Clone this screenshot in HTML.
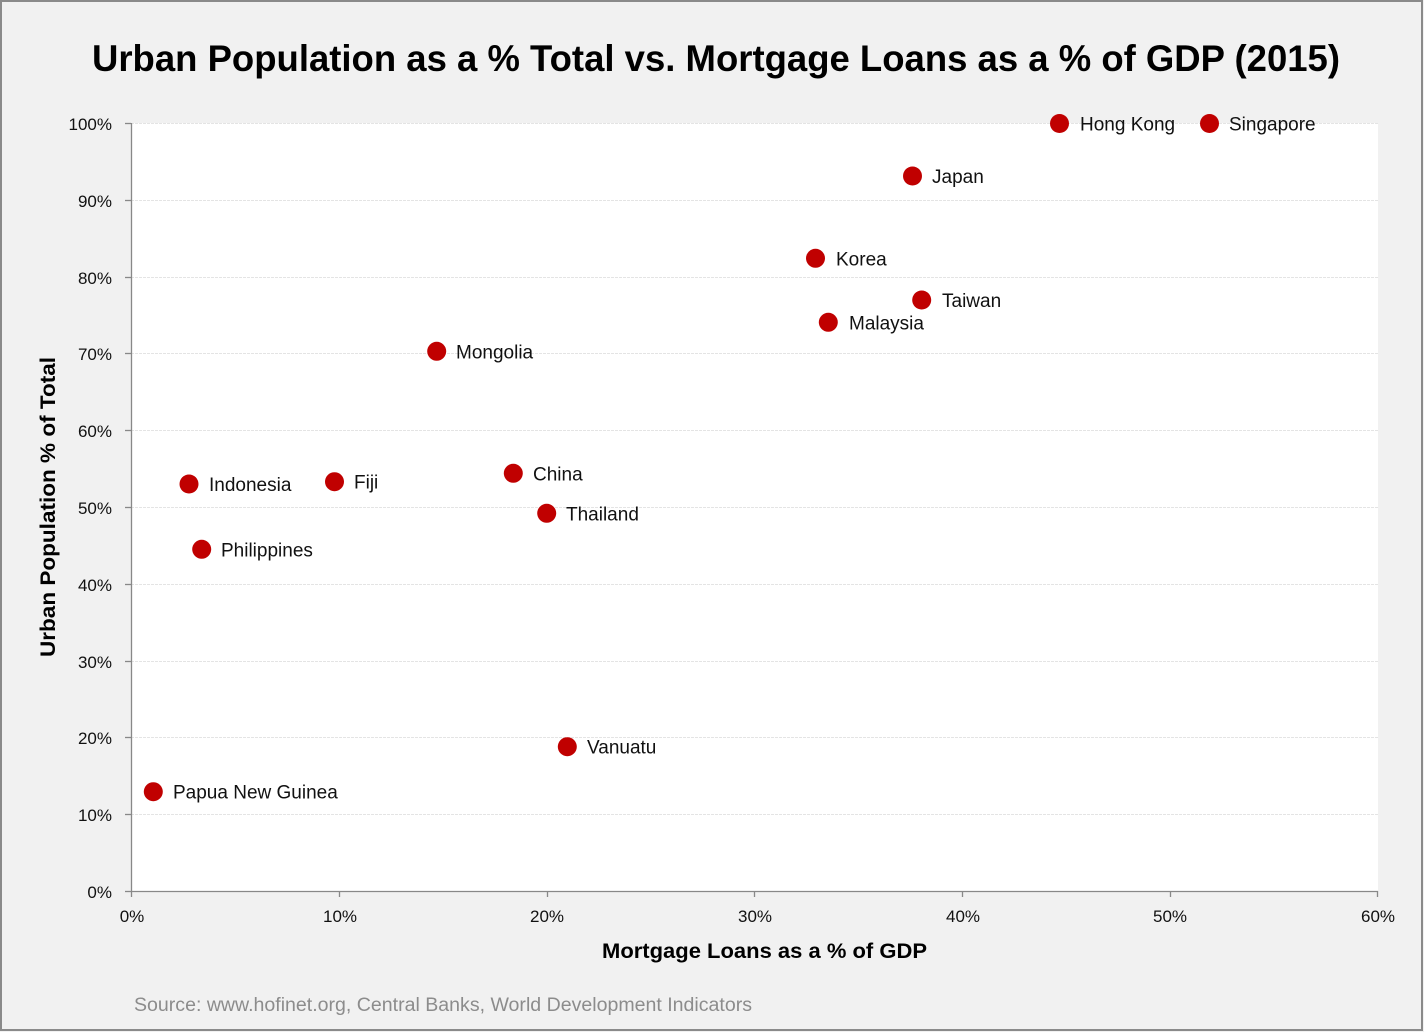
<!DOCTYPE html>
<html><head><meta charset="utf-8"><style>
html,body{margin:0;padding:0;background:#f1f1f1;}
svg{display:block;}
</style></head><body>
<svg width="1424" height="1032" viewBox="0 0 1424 1032" xmlns="http://www.w3.org/2000/svg" font-family="'Liberation Sans', sans-serif">
<rect x="0" y="0" width="1424" height="1032" fill="#f1f1f1"/>
<rect x="1" y="1" width="1421" height="1029" fill="none" stroke="#8a8a8a" stroke-width="2"/>
<rect x="131" y="123" width="1247" height="768" fill="#ffffff"/>
<!-- gridlines -->
<g stroke="#e4e4e4" stroke-width="1" stroke-dasharray="3,1">
<line x1="131" y1="123.5" x2="1378" y2="123.5"/>
<line x1="131" y1="200.5" x2="1378" y2="200.5"/>
<line x1="131" y1="277.5" x2="1378" y2="277.5"/>
<line x1="131" y1="353.5" x2="1378" y2="353.5"/>
<line x1="131" y1="430.5" x2="1378" y2="430.5"/>
<line x1="131" y1="507.5" x2="1378" y2="507.5"/>
<line x1="131" y1="584.5" x2="1378" y2="584.5"/>
<line x1="131" y1="661.5" x2="1378" y2="661.5"/>
<line x1="131" y1="737.5" x2="1378" y2="737.5"/>
<line x1="131" y1="814.5" x2="1378" y2="814.5"/>
</g>
<!-- axes -->
<g stroke="#888" stroke-width="1.3">
<line x1="131.5" y1="123" x2="131.5" y2="892"/>
<line x1="131" y1="891.5" x2="1378" y2="891.5"/>
<line x1="125" y1="123.5" x2="131" y2="123.5"/>
<line x1="125" y1="200.5" x2="131" y2="200.5"/>
<line x1="125" y1="277.5" x2="131" y2="277.5"/>
<line x1="125" y1="353.5" x2="131" y2="353.5"/>
<line x1="125" y1="430.5" x2="131" y2="430.5"/>
<line x1="125" y1="507.5" x2="131" y2="507.5"/>
<line x1="125" y1="584.5" x2="131" y2="584.5"/>
<line x1="125" y1="661.5" x2="131" y2="661.5"/>
<line x1="125" y1="737.5" x2="131" y2="737.5"/>
<line x1="125" y1="814.5" x2="131" y2="814.5"/>
<line x1="125" y1="891.5" x2="131" y2="891.5"/>
<line x1="131.5" y1="891" x2="131.5" y2="897"/>
<line x1="339.5" y1="891" x2="339.5" y2="897"/>
<line x1="547.5" y1="891" x2="547.5" y2="897"/>
<line x1="754.5" y1="891" x2="754.5" y2="897"/>
<line x1="962.5" y1="891" x2="962.5" y2="897"/>
<line x1="1170.5" y1="891" x2="1170.5" y2="897"/>
<line x1="1377.5" y1="891" x2="1377.5" y2="897"/>
</g>
<!-- y tick labels -->
<g font-size="17" fill="#111" text-anchor="end">
<text x="112" y="130">100%</text>
<text x="112" y="207">90%</text>
<text x="112" y="284">80%</text>
<text x="112" y="360">70%</text>
<text x="112" y="437">60%</text>
<text x="112" y="514">50%</text>
<text x="112" y="591">40%</text>
<text x="112" y="668">30%</text>
<text x="112" y="744">20%</text>
<text x="112" y="821">10%</text>
<text x="112" y="898">0%</text>
</g>
<!-- x tick labels -->
<g font-size="17" fill="#111" text-anchor="middle">
<text x="132" y="922">0%</text>
<text x="340" y="922">10%</text>
<text x="547" y="922">20%</text>
<text x="755" y="922">30%</text>
<text x="963" y="922">40%</text>
<text x="1170" y="922">50%</text>
<text x="1378" y="922">60%</text>
</g>
<!-- title -->
<text x="92" y="71" font-size="37" font-weight="bold" fill="#000" textLength="1248" lengthAdjust="spacingAndGlyphs">Urban Population as a % Total vs. Mortgage Loans as a % of GDP (2015)</text>
<!-- axis titles -->
<text x="602" y="958" font-size="21" font-weight="bold" fill="#000" textLength="325" lengthAdjust="spacingAndGlyphs">Mortgage Loans as a % of GDP</text>
<text transform="translate(55,657) rotate(-90)" x="0" y="0" font-size="21" font-weight="bold" fill="#000" textLength="300" lengthAdjust="spacingAndGlyphs">Urban Population % of Total</text>
<!-- source -->
<text x="134" y="1011" font-size="19" fill="#8c8c8c" textLength="618" lengthAdjust="spacingAndGlyphs">Source: www.hofinet.org, Central Banks, World Development Indicators</text>
<!-- points -->
<g fill="#c00000">
<circle cx="1059.5" cy="123.5" r="9.5"/>
<circle cx="1209.5" cy="123.5" r="9.5"/>
<circle cx="912.5" cy="176" r="9.5"/>
<circle cx="815.5" cy="258.3" r="9.5"/>
<circle cx="921.7" cy="300" r="9.5"/>
<circle cx="828.3" cy="322.3" r="9.5"/>
<circle cx="436.7" cy="351.3" r="9.5"/>
<circle cx="513.3" cy="473.3" r="9.5"/>
<circle cx="546.7" cy="513.3" r="9.5"/>
<circle cx="334.5" cy="481.7" r="9.5"/>
<circle cx="189" cy="484" r="9.5"/>
<circle cx="201.7" cy="549.3" r="9.5"/>
<circle cx="567.3" cy="746.7" r="9.5"/>
<circle cx="153.3" cy="791.7" r="9.5"/>
</g>
<g font-size="19" fill="#111">
<text x="1080" y="130.5">Hong Kong</text>
<text x="1229" y="130.5">Singapore</text>
<text x="932" y="183">Japan</text>
<text x="836" y="265.3">Korea</text>
<text x="942" y="307">Taiwan</text>
<text x="849" y="329.3">Malaysia</text>
<text x="456" y="358.3">Mongolia</text>
<text x="533" y="480.3">China</text>
<text x="566" y="520.3">Thailand</text>
<text x="354" y="488.7">Fiji</text>
<text x="209" y="491">Indonesia</text>
<text x="221" y="556.3">Philippines</text>
<text x="587" y="753.7">Vanuatu</text>
<text x="173" y="798.7">Papua New Guinea</text>
</g>
</svg>
</body></html>
